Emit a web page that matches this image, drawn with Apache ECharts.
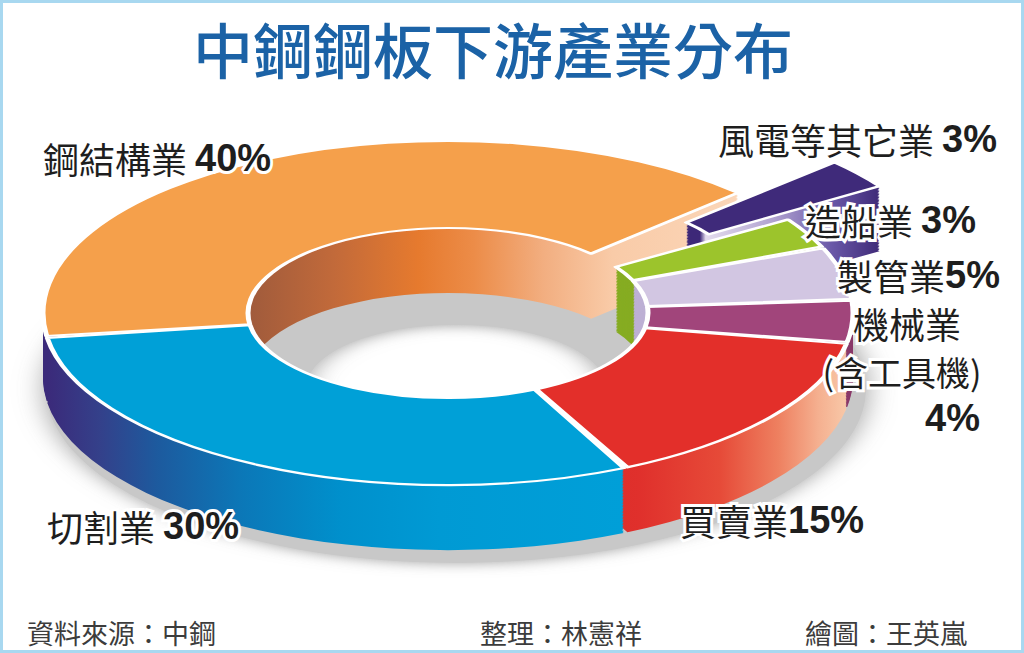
<!DOCTYPE html>
<html>
<head>
<meta charset="utf-8">
<title>中鋼鋼板下游產業分布</title>
<script src="https://cdn.jsdelivr.net/npm/echarts@6/dist/echarts.min.js"></script>
<style>
html, body { margin: 0; padding: 0; background: #fff; }
#wrap { position: relative; width: 1024px; height: 653px; overflow: hidden; background: #fff; }
/* 圓環畫在這個 div 裡，再用 scaleY 壓扁成立體的橢圓 */
#pie { position: absolute; left: -2px; top: -137px; width: 900px; height: 1100px;
       transform-origin: 450px 450px; transform: scaleY(0.425); }
#main { position: absolute; left: 0; top: 0; width: 1024px; height: 653px; }
</style>
</head>
<body>
<div id="wrap"><div id="pie"></div><div id="main"></div></div>
<script>
// 資料
var names = ['鋼結構業', '風電等其它業', '造船業', '製管業', '機械業（含工具機）', '買賣業', '切割業'];
var values = [40, 3, 3, 5, 4, 15, 30];
var exploded = ['風電等其它業'];
var titleText = '中鋼鋼板下游產業分布';
var footers = ['資料來源：中鋼', '整理：林憲祥', '繪圖：王英嵐'];

// 樣式
function grad(stops) {
  return new echarts.graphic.LinearGradient(0, 0, 1, 0, stops.map(function(s) {
    return { offset: s[0], color: s[1] };
  }));
}
var topColors = ['#f5a04b', '#3f2a7a', '#9cc42c', '#d2c6e2', '#a1457b', '#e32f2a', '#00a0d7'];
var sideColors = [
  grad([[0, '#3b2a7a'], [0.012, '#3b2a7a'], [0.02, '#8a4a30'], [0.29, '#9e5a3c'], [0.42, '#c26a3a'], [0.54, '#e67a2e'], [0.62, '#ec8c48'], [0.72, '#f2ae80'], [0.82, '#f9cba8'], [1, '#fbd6b8']]),
  grad([[0, '#3d2878'], [0.07, '#3d2878'], [0.1, '#e4dcee'], [0.45, '#b0a2d0'], [0.75, '#6a58a8'], [1, '#3f2a78']]),
  '#86ac22',
  '#bdb0d4',
  '#8a3a6a',
  grad([[0, '#d82a26'], [0.33, '#e0302c'], [0.59, '#e64a38'], [0.78, '#ee8060'], [0.91, '#f5b090'], [1, '#f8c8a8']]),
  grad([[0, '#3b2a7a'], [0.09, '#34408a'], [0.19, '#1d5a9e'], [0.34, '#0b78b8'], [0.51, '#0090cc'], [0.68, '#009ad4'], [1, '#009fd8']])
];
var thick = 153;   // 側面厚度（壓扁前）
var step = 3.5;

function ring(dy, colors, isTop) {
  return {
    type: 'pie',
    silent: true,
    animation: false,
    center: [450, 450 + dy],
    radius: [200, 405],
    startAngle: 188,
    clockwise: true,
    padAngle: 0.6,
    selectedMode: 'multiple',
    selectedOffset: 120,
    label: { show: false },
    labelLine: { show: false },
    emphasis: { disabled: true },
    itemStyle: isTop ? { borderColor: '#fff', borderWidth: 5 } : { borderWidth: 0 },
    data: names.map(function(n, i) {
      return { name: n, value: values[i], selected: exploded.indexOf(n) >= 0, itemStyle: { color: colors[i] } };
    })
  };
}

var pieSeries = [];
// 底下的灰色陰影
pieSeries.push({
  type: 'pie', silent: true, animation: false,
  center: [458, 450 + thick + 25], radius: [150, 410],
  label: { show: false }, labelLine: { show: false },
  emphasis: { disabled: true },
  itemStyle: { color: '#c8c8c8', shadowBlur: 30, shadowColor: 'rgba(150,150,150,0.9)' },
  data: [{ name: 'shadow', value: 1 }]
});
for (var d = thick; d > 0; d -= step) {
  pieSeries.push(ring(d, sideColors, false));
}
pieSeries.push(ring(0, topColors, true));

var pieChart = echarts.init(document.getElementById('pie'), null, { renderer: 'svg' });
pieChart.setOption({ animation: false, series: pieSeries });

// 文字標籤
var labelPos = [[43, 158], [718, 139], [805, 220], [837, 275], [853, 323], [680, 520], [47, 526]];
var labelGap = [' ', ' ', ' ', '', '', '', ' '];
var rich = {
  n: { fontFamily: '"Noto Sans CJK TC"', fontSize: 36, fill: '#1e1e1e', stroke: '#fff', lineWidth: 6 },
  s: { fontFamily: '"Noto Sans CJK TC"', fontSize: 34, fill: '#1e1e1e', stroke: '#fff', lineWidth: 6 },
  p: { fontFamily: '"Liberation Sans", "Noto Sans CJK TC"', fontWeight: 'bold', fontSize: 38, fill: '#1e1e1e', stroke: '#fff', lineWidth: 6 }
};
function txt(x, y, text, align) {
  return {
    type: 'text', x: x, y: y, z: 10,
    style: { text: text, rich: rich, textAlign: align || 'left', textVerticalAlign: 'middle', strokeFirst: true }
  };
}
var graphics = [];
names.forEach(function(n, i) {
  if (i === 4) {
    // 機械業（含工具機）分三行
    var k = n.indexOf('（');
    var sub = n.slice(k).replace('（', '(').replace('）', ')');
    graphics.push(txt(labelPos[i][0], labelPos[i][1], '{n|' + n.slice(0, k) + '}'));
    graphics.push(txt(902, 371, '{s|' + sub + '}', 'center'));
    graphics.push(txt(980, 418, '{p|' + values[i] + '%}', 'right'));
  } else {
    graphics.push(txt(labelPos[i][0], labelPos[i][1], '{n|' + n + labelGap[i] + '}{p|' + values[i] + '%}'));
  }
});
graphics.push({
  type: 'text', x: 493, y: 47, z: 10,
  style: { text: titleText, font: '500 60px "Noto Sans CJK TC"', fill: '#1b62a6', textAlign: 'center', textVerticalAlign: 'middle' }
});
var footX = [27, 480, 805];
footers.forEach(function(f, i) {
  graphics.push({
    type: 'text', x: footX[i], y: 632, z: 10,
    style: { text: f, font: '27px "Noto Sans CJK TC"', fill: '#3c3c3c', textVerticalAlign: 'middle' }
  });
});
graphics.push({
  type: 'rect', z: 20,
  shape: { x: 1.5, y: 1.5, width: 1021, height: 650 },
  style: { fill: 'none', stroke: '#a8d8f0', lineWidth: 3 }
});

var mainChart = echarts.init(document.getElementById('main'), null, { renderer: 'svg' });
mainChart.setOption({ animation: false, graphic: graphics });
</script>
</body>
</html>
